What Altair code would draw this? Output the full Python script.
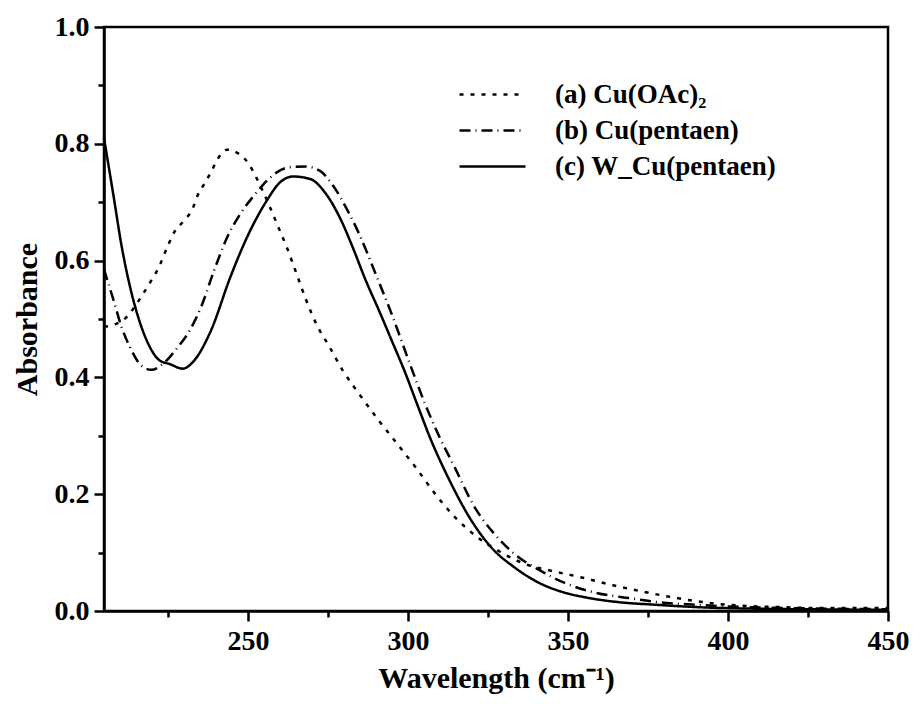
import altair as alt
import pandas as pd

# ---- data ----
labels = ["(a) Cu(OAc)₂", "(b) Cu(pentaen)", "(c) W_Cu(pentaen)"]

wl_a = [205, 208, 212, 215.2, 217.2, 219.8, 221.9, 225, 227, 230.1, 232.7, 234.2, 236.3,
        238.4, 240.4, 243.5, 247.1, 250.2, 252.8, 256.9, 259.5, 262.1, 265.2, 268.2,
        271.3, 275.5, 279.6, 284.7, 290.9, 297.1, 302.8, 308.4, 314.6, 321.8, 328.9,
        336.3, 344.6, 353.8, 364.1, 374.4, 382.1, 389.8, 397.1, 404.3, 414.6, 430, 450]
abs_a = [0.487, 0.490, 0.503, 0.526, 0.543, 0.566, 0.586, 0.626, 0.649, 0.669, 0.689, 0.711,
         0.731, 0.751, 0.773, 0.790, 0.783, 0.766, 0.740, 0.691, 0.657, 0.623, 0.577, 0.532,
         0.492, 0.452, 0.412, 0.372, 0.326, 0.283, 0.243, 0.201, 0.161, 0.126, 0.101, 0.081,
         0.069, 0.058, 0.044, 0.032, 0.024, 0.017, 0.012, 0.009, 0.007, 0.005, 0.005]

wl_b = [205, 208, 210.5, 213.1, 216.7, 219.8, 224, 228.1, 231.2, 235.3, 239.4, 243.5, 247.6,
        251.8, 254.9, 259, 263.1, 268.2, 272.4, 276.5, 281.1, 284.7, 289.9, 295, 300.2,
        305.3, 309.4, 314.6, 320.8, 327, 333.2, 341.4, 348.6, 358.9, 369.2, 378.5, 388.8,
        399.1, 419.7, 450]
abs_b = [0.585, 0.532, 0.486, 0.452, 0.420, 0.413, 0.426, 0.452, 0.475, 0.520, 0.583, 0.640,
         0.680, 0.711, 0.731, 0.751, 0.760, 0.761, 0.754, 0.729, 0.686, 0.646, 0.577, 0.507,
         0.429, 0.355, 0.303, 0.246, 0.178, 0.132, 0.098, 0.069, 0.049, 0.031, 0.022, 0.015,
         0.011, 0.008, 0.005, 0.003]

wl_c = [205, 208, 210.5, 213.1, 215.7, 218.8, 222.4, 225.5, 229.6, 233.2, 238.4, 244.5,
        249.7, 255.9, 260, 264.1, 269.3, 274.4, 279.1, 282.7, 286.8, 290.9, 295, 299.2,
        303, 307.4, 312.5, 319.8, 326, 333.2, 341.4, 348.6, 355.8, 366.1, 376.4, 399, 450]
abs_c = [0.810, 0.710, 0.625, 0.556, 0.503, 0.458, 0.429, 0.423, 0.415, 0.429, 0.480, 0.572,
         0.640, 0.703, 0.734, 0.744, 0.740, 0.714, 0.669, 0.623, 0.566, 0.515, 0.462, 0.407,
         0.352, 0.290, 0.229, 0.155, 0.109, 0.075, 0.047, 0.032, 0.023, 0.015, 0.011, 0.005,
         0.002]

x_ticks = [225, 250, 275, 300, 325, 350, 375, 400, 425, 450]
y_ticks = [0.0, 0.1, 0.2, 0.3, 0.4, 0.5, 0.6, 0.7, 0.8, 0.9, 1.0]

rows = []
for lab, xs, ys in zip(labels, [wl_a, wl_b, wl_c], [abs_a, abs_b, abs_c]):
    for xv, yv in zip(xs, ys):
        rows.append({"series": lab, "wavelength": xv, "absorbance": yv})
df = pd.DataFrame(rows)

FONT = "Liberation Serif"

x_axis = alt.Axis(
    values=x_ticks,
    labelExpr="datum.value % 50 == 0 ? datum.label : ''",
    tickSize={"condition": {"test": "datum.value % 50 == 0", "value": 10}, "value": 6},
    labelFlush=False,
    labelPadding=6,
    title="Wavelength (cm⁻¹)",
    titlePadding=8,
)
y_axis = alt.Axis(
    values=y_ticks,
    labelExpr="round(datum.value * 10) % 2 == 0 ? format(datum.value, '.1f') : ''",
    tickSize={"condition": {"test": "round(datum.value * 10) % 2 == 0", "value": 10}, "value": 6},
    labelFlush=False,
    labelPadding=5,
    title="Absorbance",
    titlePadding=12,
)

chart = alt.Chart(df).mark_line(color="black", strokeWidth=2.5, interpolate="monotone").encode(
    x=alt.X("wavelength:Q", scale=alt.Scale(domain=[205, 450], nice=False, zero=False), axis=x_axis),
    y=alt.Y("absorbance:Q", scale=alt.Scale(domain=[0, 1], nice=False), axis=y_axis),
    strokeDash=alt.StrokeDash(
        "series:N",
        scale=alt.Scale(domain=labels, range=[[4, 7], [11, 5, 1, 5], [1, 0]]),
        legend=alt.Legend(
            title=None,
            orient="none",
            legendX=375,
            legendY=54,
            symbolType="M-3,0H3",
            symbolSize=484,
            symbolStrokeWidth=2.5,
            symbolStrokeColor="black",
            labelFont=FONT,
            labelFontSize=27,
            labelFontWeight="bold",
            labelColor="black",
            labelOffset=49,
            labelLimit=400,
            rowPadding=8,
        ),
    ),
    detail="series:N",
).properties(
    width=784,
    height=584,
    autosize=alt.AutoSizeParams(type="none"),
    padding={"left": 96, "top": 19, "right": 22, "bottom": 85},
).configure_view(
    stroke="black", strokeWidth=2.5
).configure_axis(
    grid=False,
    domainColor="black",
    domainWidth=2.5,
    tickColor="black",
    tickWidth=2.5,
    labelFont=FONT,
    labelFontSize=28,
    labelFontWeight="bold",
    labelColor="black",
    titleFont=FONT,
    titleFontSize=30,
    titleFontWeight="bold",
    titleColor="black",
)

chart.save("out.html", embed_options={"renderer": "svg", "actions": False})
